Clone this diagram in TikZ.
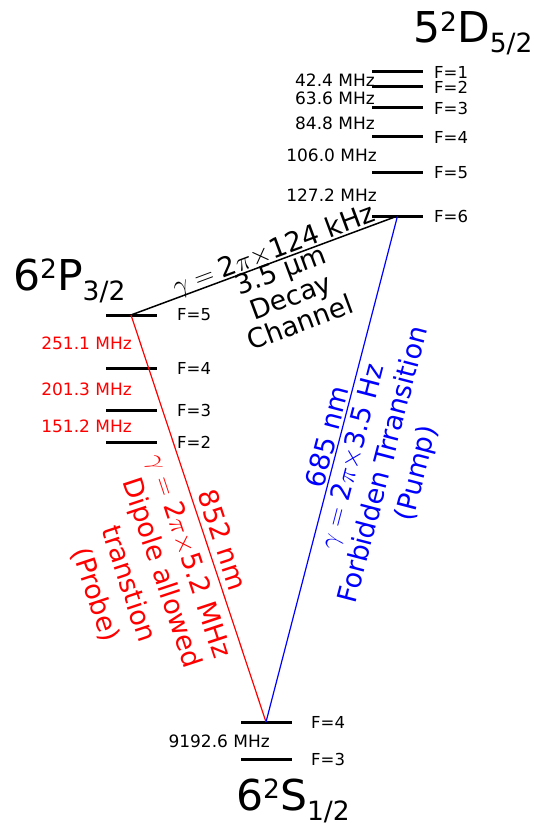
\RequirePackage{fix-cm}
\documentclass[tikz,border=0pt]{standalone}
\usepackage[no-math]{fontspec}
\setmainfont{DejaVu Sans}
\newcommand\termsym[4]{{\fontsize{42.5}{42.5}\selectfont #1\raisebox{11.5pt}{\fontsize{26.5}{26.5}\selectfont #2}#3\raisebox{-10pt}{\fontsize{26.5}{26.5}\selectfont #4}}}
\begin{document}
\begin{tikzpicture}[x=1pt,y=-1pt,
  lvl/.style={fill=black, inner sep=0pt, minimum width=51pt, minimum height=3pt},
  flab/.style={anchor=west, inner sep=0pt, font=\fontsize{16.5}{16.5}\selectfont},
  mhz/.style={anchor=east, inner sep=0pt, font=\fontsize{17}{17}\selectfont},
  big/.style={anchor=base west, inner sep=0pt},
  tr/.style={inner sep=0pt, font=\fontsize{27}{28}\selectfont, align=center},
  decay/.style={draw=black, line width=1.5pt},
  probe/.style={draw=red, line width=1.2pt},
  pump/.style={draw=blue, line width=1.2pt}]
\useasboundingbox (0,0) rectangle (533,829);
% D levels
\node[lvl] (D1) at (397.5,72) {};
\node[lvl] (D2) at (397.5,87) {};
\node[lvl] (D3) at (397.5,108) {};
\node[lvl] (D4) at (397.5,137) {};
\node[lvl] (D5) at (397.5,173) {};
\node[lvl] (D6) at (397.5,216) {};
\node[flab] (fD1) at (434,72) {F=1};
\node[flab] (fD2) at (434,87) {F=2};
\node[flab] (fD3) at (434,108) {F=3};
\node[flab] (fD4) at (434,137) {F=4};
\node[flab] (fD5) at (434,173) {F=5};
\node[flab] (fD6) at (434,216) {F=6};
\node[mhz] (mD1) at (375,80) {42.4 MHz};
\node[mhz] (mD2) at (375,98) {63.6 MHz};
\node[mhz] (mD3) at (375,123) {84.8 MHz};
\node[mhz] (mD4) at (377,155) {106.0 MHz};
\node[mhz] (mD5) at (377,195) {127.2 MHz};
\node[big] (Dlab) at (413,43) {\termsym{5}{2}{D}{5/2}};
% P levels
\node[lvl] (P5) at (131,315) {};
\node[lvl] (P4) at (131,368) {};
\node[lvl] (P3) at (131,410) {};
\node[lvl] (P2) at (131,442) {};
\node[flab] (fP5) at (177,315) {F=5};
\node[flab] (fP4) at (177,368) {F=4};
\node[flab] (fP3) at (177,410) {F=3};
\node[flab] (fP2) at (177,442) {F=2};
\node[mhz, text=red] (mP1) at (132,343) {251.1 MHz};
\node[mhz, text=red] (mP2) at (132,389) {201.3 MHz};
\node[mhz, text=red] (mP3) at (132,426) {151.2 MHz};
\node[big] (Plab) at (13,290) {\termsym{6}{2}{P}{3/2}};
% S levels
\node[lvl] (S4) at (266,722) {};
\node[lvl] (S3) at (266,759) {};
\node[flab] (fS4) at (311,722) {F=4};
\node[flab] (fS3) at (311,759) {F=3};
\node[mhz] (mS) at (270,741) {9192.6 MHz};
\node[big] (Slab) at (236,810) {\termsym{6}{2}{S}{1/2}};
% transitions
\draw[decay] (P5.center) -- (D6.center);
\draw[probe] (P5.center) -- (S4.center);
\draw[pump] (D6.center) -- (S4.center);
% decay labels
\node[tr, rotate=20.41] (dg) at (274,251) {\(\gamma = {}\)2\(\pi\times\)124 kHz};
\node[tr, rotate=20.41] (dt) at (290.4,296.2) {3.5 μm\\Decay\\Channel};
% probe labels
\node[tr, text=red, rotate=-71.65] (pw) at (223,540) {852 nm};
\node[tr, text=red, rotate=-71.65] (pg) at (188,556.7) {\(\gamma = {}\)2\(\pi\times\)5.2 MHz};
\node[tr, text=red, rotate=-71.65, font=\fontsize{27}{35}\selectfont] (pt) at (128.5,583.9) {Dipole allowed\\transtion\\(Probe)};
% pump labels
\node[tr, text=blue, rotate=75.38] (uw) at (327,436.7) {685 nm};
\node[tr, text=blue, rotate=75.38] (ug) at (352.7,456.9) {\(\gamma = {}\)2\(\pi\times\)3.5 Hz};
\node[tr, text=blue, rotate=75.38, font=\fontsize{27}{34}\selectfont] (ut) at (401,469.5) {Forbidden Trransition\\(Pump)};
\end{tikzpicture}
\end{document}
